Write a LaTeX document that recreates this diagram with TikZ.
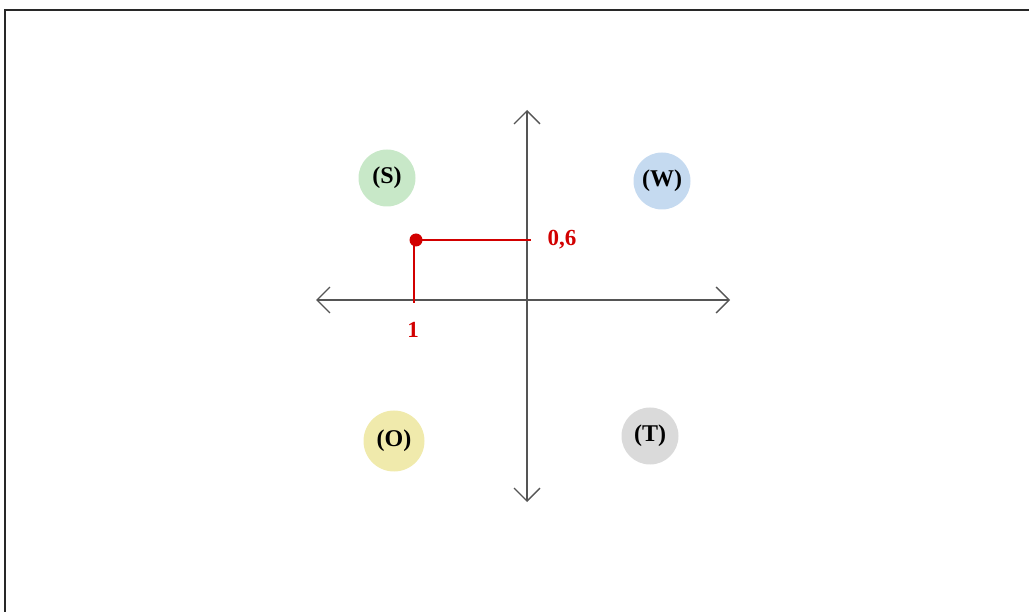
\documentclass[tikz,border=0pt]{standalone}
\usepackage{fontspec}
\setmainfont{Liberation Serif}
\usetikzlibrary{arrows.meta}
\definecolor{axisgray}{RGB}{85,85,85}
\definecolor{ptred}{RGB}{210,0,0}
\definecolor{cS}{RGB}{200,232,200}
\definecolor{cW}{RGB}{197,218,240}
\definecolor{cO}{RGB}{240,234,172}
\definecolor{cT}{RGB}{218,218,218}
\definecolor{framec}{RGB}{40,40,40}
\tikzset{
  px/.style={x=1pt,y=-1pt},
  axisline/.style={draw=axisgray,line width=1.3pt,{Straight Barb[length=13pt,width=26pt,line width=1.3pt]}-{Straight Barb[length=13pt,width=26pt,line width=1.3pt]}},
  quad/.style={circle,minimum size=57pt,inner sep=0pt,font=\fontsize{24}{26}\selectfont\bfseries,text=black},
  redline/.style={draw=ptred,line width=2pt},
  redlabel/.style={text=ptred,font=\fontsize{23}{25}\selectfont\bfseries,inner sep=0pt},
}
\begin{document}
\begin{tikzpicture}[px]
\useasboundingbox (0,0) rectangle (1029,612);
\draw[framec,line width=2pt] (1040,10.5) -- (4.5,10.5) -- (4.5,620);
% axes
\coordinate (xl) at (316,300);
\coordinate (xr) at (730,300);
\coordinate (yt) at (527,110);
\coordinate (yb) at (527,502);
\draw[axisline] (xl) -- (xr);
\draw[axisline] (yb) -- (yt);
% quadrant circles
\node[quad,fill=cS] (S) at (387,178) {(S)};
\node[quad,fill=cW] (W) at (662,181) {(W)};
\node[quad,fill=cO,minimum size=61pt] (O) at (394,441) {(O)};
\node[quad,fill=cT] (T) at (650,436) {(T)};
% red point
\coordinate (p) at (416,240);
\coordinate (ph) at (531,240);
\coordinate (pv) at (414,303);
\draw[redline] (p) -- (ph);
\draw[redline] (414,240) -- (pv);
\fill[ptred] (p) circle (6.5pt);
\node[redlabel] (l06) at (562,240) {0,6};
\node[redlabel] (l1) at (413,330) {1};
\end{tikzpicture}
\end{document}
